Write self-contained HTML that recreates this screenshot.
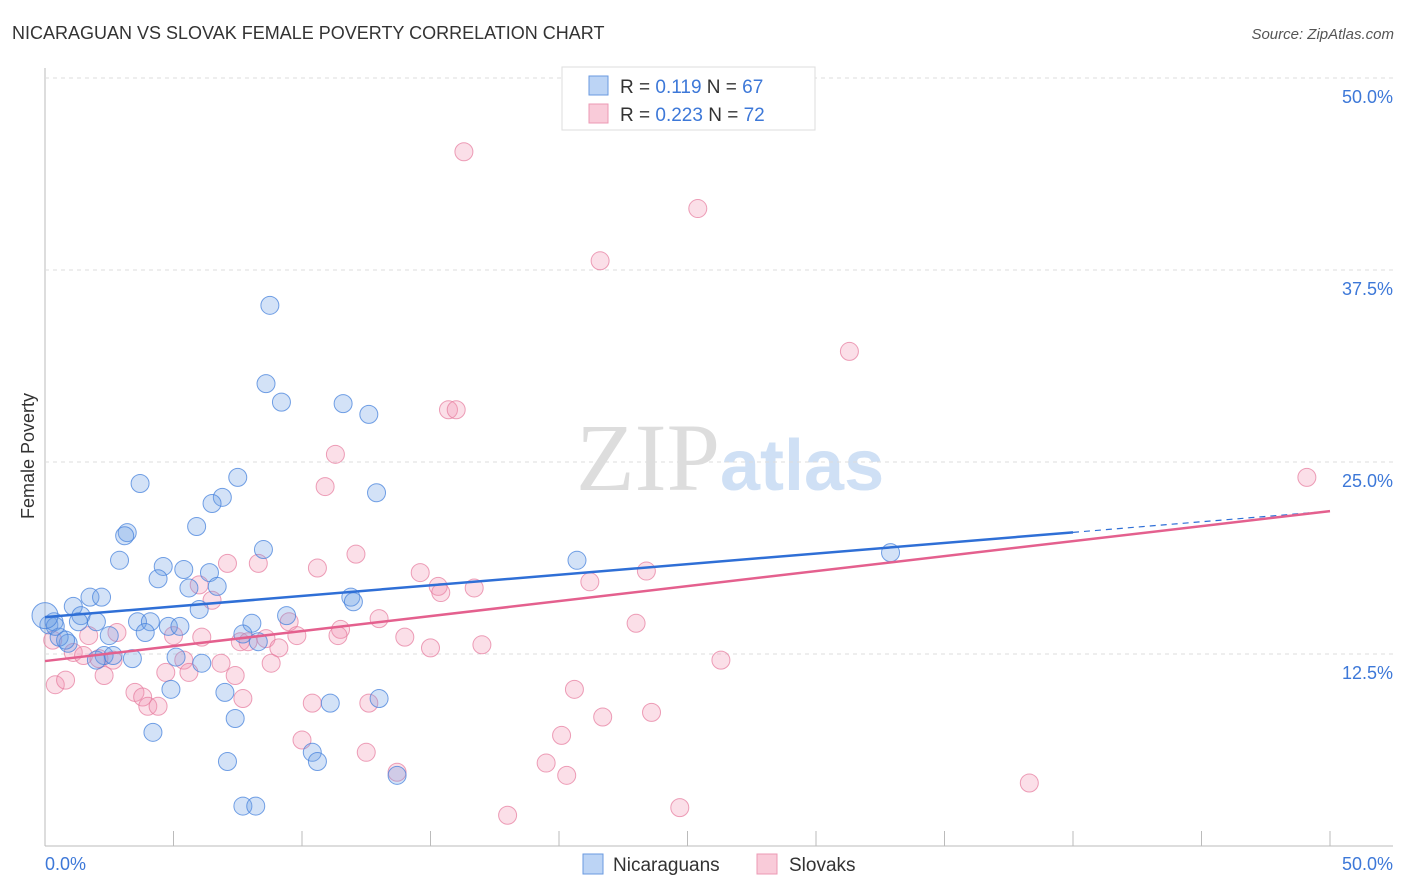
<!DOCTYPE html>
<html><head><meta charset="utf-8"><style>
body{margin:0;background:#fff;font-family:"Liberation Sans",sans-serif;}
svg{display:block}
</style></head><body>
<svg id="c" width="1406" height="892">
<text x="12" y="39" font-size="18" fill="#333">NICARAGUAN VS SLOVAK FEMALE POVERTY CORRELATION CHART</text>
<text x="1394" y="39" font-size="15" fill="#555" font-style="italic" text-anchor="end">Source: ZipAtlas.com</text>
<text x="720" y="490" font-size="96" fill="#ddd" text-anchor="end" font-family="Liberation Serif">ZIP</text>
<text x="720" y="490" font-size="72" fill="#cfe0f5" font-weight="bold">atlas</text>
<text transform="translate(34,456) rotate(-90)" font-size="18" fill="#333" text-anchor="middle">Female Poverty</text>
<g id="grid"></g><g id="pts"></g><g id="lines"></g>
<g>
<rect x="562" y="67" width="253" height="63" fill="#fff" stroke="#ddd"/>
<rect x="589" y="76" width="19" height="19" fill="#bcd4f5" stroke="#6a9ae0"/>
<rect x="589" y="104" width="19" height="19" fill="#f9cbd9" stroke="#ec9ab4"/>
<text x="620" y="93" font-size="19" fill="#333">R = <tspan fill="#3d78d8">0.119</tspan>   N = <tspan fill="#3d78d8">67</tspan></text>
<text x="620" y="121" font-size="19" fill="#333">R = <tspan fill="#3d78d8">0.223</tspan>   N = <tspan fill="#3d78d8">72</tspan></text>
</g>
<g>
<rect x="583" y="854" width="20" height="20" fill="#bcd4f5" stroke="#6a9ae0"/>
<text x="613" y="871" font-size="19" fill="#333">Nicaraguans</text>
<rect x="757" y="854" width="20" height="20" fill="#f9cbd9" stroke="#ec9ab4"/>
<text x="789" y="871" font-size="19" fill="#333">Slovaks</text>
</g>
</svg>
<script>
const blueX=[8.75,8.6,9.2,11.6,12.6,7.5,3.7,12.9,6.9,6.5,3.2,3.1,5.9,8.5,2.9,20.7,32.9,4.6,5.4,6.4,4.4,6.7,5.6,1.75,2.2,11.9,12.0,1.1,6.0,9.4,1.4,2.0,1.3,0.15,0.35,3.6,4.1,4.8,5.25,8.05,3.9,2.5,7.7,8.3,0.9,0.55,2.3,2.65,3.4,2.0,5.1,6.1,4.9,7.0,13.0,11.1,7.4,4.2,7.1,10.4,10.6,13.7,7.7,8.2,0.4,0.8,0.0];
const blueY=[35.2,30.1,28.9,28.8,28.1,24.0,23.6,23.0,22.7,22.3,20.4,20.2,20.8,19.3,18.6,18.6,19.1,18.2,18.0,17.8,17.4,16.9,16.8,16.2,16.2,16.2,15.9,15.6,15.4,15.0,15.0,14.6,14.6,14.4,14.6,14.6,14.6,14.3,14.3,14.5,13.9,13.7,13.8,13.3,13.2,13.6,12.4,12.4,12.2,12.1,12.3,11.9,10.2,10.0,9.6,9.3,8.3,7.4,5.5,6.1,5.5,4.6,2.6,2.6,14.3,13.4,15.0];
const pinkX=[16.3,25.4,21.6,31.3,15.7,16.0,11.3,10.9,49.1,12.1,7.1,8.3,10.6,14.6,23.4,6.0,21.2,15.3,16.7,15.4,6.5,13.0,9.5,23.0,2.8,11.5,11.4,1.7,5.0,6.1,9.8,14.0,7.6,8.6,7.9,0.3,17.0,15.0,9.1,1.1,1.5,2.1,5.4,2.65,6.85,26.3,8.8,4.7,5.6,2.3,7.4,0.4,0.8,3.5,3.8,7.7,20.6,10.4,12.6,23.6,21.7,4.0,4.4,20.1,10.0,12.5,19.5,20.3,13.7,38.3,24.7,18.0];
const pinkY=[45.2,41.5,38.1,32.2,28.4,28.4,25.5,23.4,24.0,19.0,18.4,18.4,18.1,17.8,17.9,17.0,17.2,16.9,16.8,16.5,16.0,14.8,14.6,14.5,13.9,14.1,13.7,13.7,13.7,13.6,13.7,13.6,13.3,13.5,13.3,13.4,13.1,12.9,12.9,12.6,12.4,12.2,12.1,12.1,11.9,12.1,11.9,11.3,11.3,11.1,11.1,10.5,10.8,10.0,9.7,9.6,10.2,9.3,9.3,8.7,8.4,9.1,9.1,7.2,6.9,6.1,5.4,4.6,4.8,4.1,2.5,2.0];
const yTicks=[12.5,25.0,37.5,50.0];
const xTicks=[0,5,10,15,20,25,30,35,40,45,50];
const blueTrend=[14.9,21.8];
const pinkTrend=[12.04,21.8];
const X=v=>45+v*25.7, Y=v=>846-v*15.36;
const NS='http://www.w3.org/2000/svg';
function mk(tag,attrs,parent){const e=document.createElementNS(NS,tag);for(const k in attrs)e.setAttribute(k,attrs[k]);parent.appendChild(e);return e;}
const grid=document.getElementById('grid');
let ax=mk('line',{x1:45,y1:68,x2:45,y2:846,stroke:'#bbb'},grid);


let bx=mk('line',{x1:45,y1:846,x2:1393,y2:846,stroke:'#bbb'},grid);


yTicks.forEach(t=>{
  let g=mk('line',{x1:45,y1:Y(t),x2:1393,y2:Y(t),stroke:'#ddd','stroke-dasharray':'4,4'},grid);
  
  
  let l=mk('text',{x:1393,y:Y(t)+25,'font-size':18,fill:'#3d78d8','text-anchor':'end'},grid);
  l.textContent=t.toFixed(1)+'%';
  
  
});
xTicks.forEach(t=>{
  let k=mk('line',{x1:X(t),y1:831,x2:X(t),y2:846,stroke:'#bbb'},grid);
  
  
});
[[0,'start',45],[50,'end',1393]].forEach(([v,a,x])=>{
  let l=mk('text',{x:x,y:870,'font-size':18,fill:'#3d78d8','text-anchor':a},grid);
  l.textContent=v.toFixed(1)+'%';
  
  
});
const pts=document.getElementById('pts');
pinkX.forEach((v,i)=>{
  let c=mk('circle',{cx:X(v),cy:Y(pinkY[i]),r:9,fill:'rgba(242,150,180,0.3)',stroke:'rgba(230,120,155,0.7)'},pts);
  
  
});
blueX.forEach((v,i)=>{
  let c=mk('circle',{cx:X(v),cy:Y(blueY[i]),r:i===blueX.length-1?13:9,fill:'rgba(110,160,230,0.3)',stroke:'rgba(70,130,220,0.75)'},pts);
  
  
});
const lines=document.getElementById('lines');
const bAt=x=>blueTrend[0]+(blueTrend[1]-blueTrend[0])*x/50;
let b1=mk('line',{x1:X(0),y1:Y(bAt(0)),x2:X(40),y2:Y(bAt(40)),stroke:'#2f6fd6','stroke-width':2.5},lines);


let b2=mk('line',{x1:X(40),y1:Y(bAt(40)),x2:X(50),y2:Y(bAt(50)),stroke:'#2f6fd6','stroke-width':1.2,'stroke-dasharray':'6,5'},lines);


let p1=mk('line',{x1:X(0),y1:Y(pinkTrend[0]),x2:X(50),y2:Y(pinkTrend[1]),stroke:'#e4608e','stroke-width':2.5},lines);


</script>
</body></html>
